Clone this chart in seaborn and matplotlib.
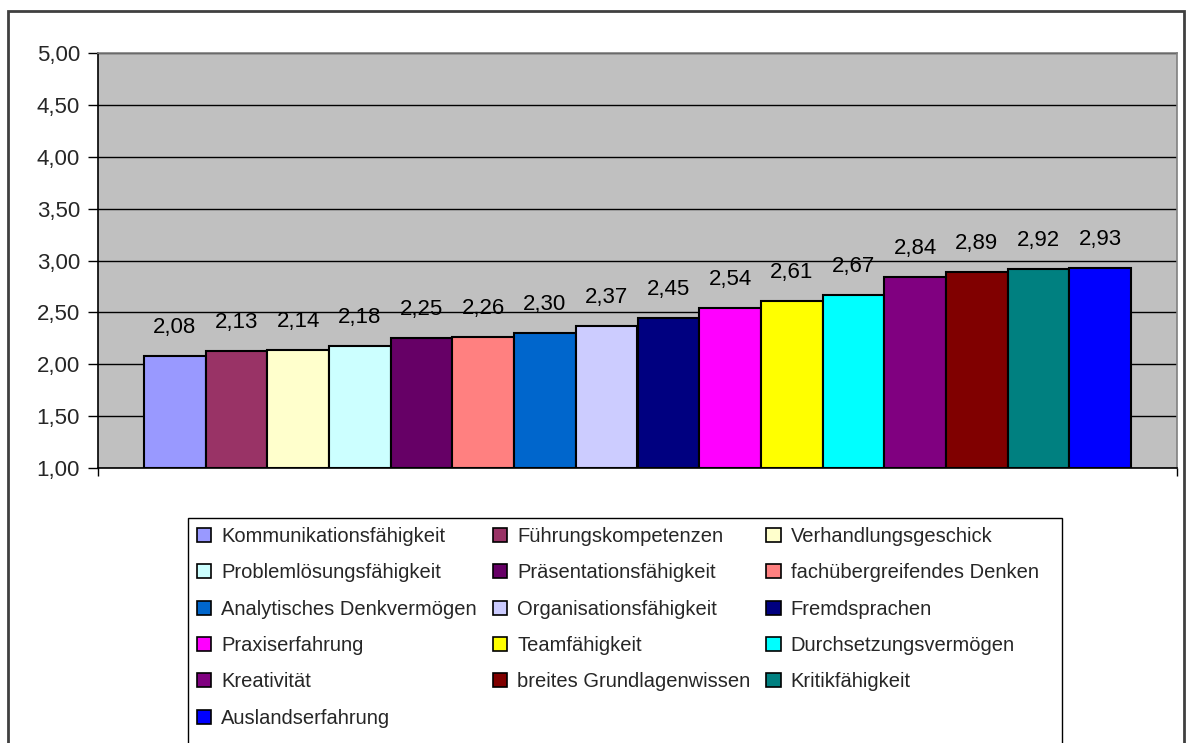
import matplotlib
matplotlib.use("Agg")
import matplotlib.pyplot as plt
from matplotlib.patches import Rectangle, Patch
import seaborn as sns
import pandas as pd

# Skills and their mean ratings
skills = [
    "Kommunikationsfähigkeit", "Führungskompetenzen", "Verhandlungsgeschick",
    "Problemlösungsfähigkeit", "Präsentationsfähigkeit", "fachübergreifendes Denken",
    "Analytisches Denkvermögen", "Organisationsfähigkeit", "Fremdsprachen",
    "Praxiserfahrung", "Teamfähigkeit", "Durchsetzungsvermögen",
    "Kreativität", "breites Grundlagenwissen", "Kritikfähigkeit",
    "Auslandserfahrung",
]
ratings = [2.08, 2.13, 2.14, 2.18, 2.25, 2.26, 2.30, 2.37, 2.45,
           2.54, 2.61, 2.67, 2.84, 2.89, 2.92, 2.93]
bar_colors = [
    "#9999FF", "#993366", "#FFFFCC", "#CCFFFF", "#660066", "#FF8080",
    "#0066CC", "#CCCCFF", "#000080", "#FF00FF", "#FFFF00", "#00FFFF",
    "#800080", "#800000", "#008080", "#0000FF",
]
y_ticks = [1.0, 1.5, 2.0, 2.5, 3.0, 3.5, 4.0, 4.5, 5.0]

df = pd.DataFrame({"skill": skills, "rating": ratings})

sns.set_theme(style="white")
plt.rcParams["font.family"] = ["Liberation Sans", "DejaVu Sans"]

W, H = 1190, 743
fig = plt.figure(figsize=(W / 100, H / 100), dpi=100)
ax = fig.add_axes([98 / W, 1 - 468 / H, (1177 - 98) / W, (468 - 53) / H])

palette = dict(zip(skills, bar_colors))
sns.barplot(data=df, x="skill", y="rating", hue="skill", palette=palette,
            order=skills, hue_order=skills, width=1.0, dodge=False,
            saturation=1.0, edgecolor="black", linewidth=1.5,
            legend=False, ax=ax, zorder=3)

# Bars grow from the axis floor at 1,00
for bar in ax.patches:
    h = bar.get_height()
    bar.set_y(1.0)
    bar.set_height(h - 1.0)

ax.set_ylim(1.0, 5.0)
ax.set_xlim(-1.245, 16.245)
ax.set_facecolor("#C0C0C0")
ax.set_yticks(y_ticks)
ax.set_yticklabels([f"{t:.2f}".replace(".", ",") for t in y_ticks], fontsize=16)
ax.yaxis.grid(True, color="black", linewidth=1.0, zorder=1)
ax.set_axisbelow(True)
ax.tick_params(axis="y", direction="out", length=7, width=1, color="black",
               left=True, pad=6)
ax.set_xticks([-1.245, 16.245])
ax.set_xticklabels(["", ""])
ax.tick_params(axis="x", direction="out", length=6, width=1, color="black",
               bottom=True)
ax.set_xlabel("")
ax.set_ylabel("")
for side in ["top", "right"]:
    ax.spines[side].set_color("#808080")
    ax.spines[side].set_linewidth(1.2)
for side in ["left", "bottom"]:
    ax.spines[side].set_color("black")
    ax.spines[side].set_linewidth(1.2)

# Value labels above each bar
for i, v in enumerate(ratings):
    ax.annotate(f"{v:.2f}".replace(".", ","), (i, v), xytext=(0, 13),
                textcoords="offset points", ha="center", va="bottom",
                fontsize=16, color="black")

# Legend with one square per skill, read row by row
handles = [Patch(facecolor=c, edgecolor="black", linewidth=1.2) for c in bar_colors]
ncol = 3
order = [i for c in range(ncol) for i in range(c, len(skills), ncol)]
leg = fig.legend([handles[i] for i in order], [skills[i] for i in order],
                 loc="upper left", bbox_to_anchor=(188 / W, 1 - 518 / H),
                 ncol=ncol, fontsize=14.5, frameon=False,
                 borderaxespad=0.0,
                 handlelength=0.7, handleheight=0.7, handletextpad=0.5,
                 columnspacing=0.8, labelspacing=0.86, borderpad=0.45)

# Legend box, running past the lower edge of the chart area
fig.patches.append(Rectangle((188 / W, -0.02), (1062 - 188) / W, 1 - 518 / H + 0.02,
                             transform=fig.transFigure, fill=False,
                             edgecolor="black", linewidth=1.0, zorder=1))

# Chart area border
fig.patches.append(Rectangle((8 / W, -0.02), (1184 - 8) / W, 1 - 11 / H + 0.02,
                             transform=fig.transFigure, fill=False,
                             edgecolor="#404040", linewidth=2, zorder=0))

fig.savefig("out.png", dpi=100)
